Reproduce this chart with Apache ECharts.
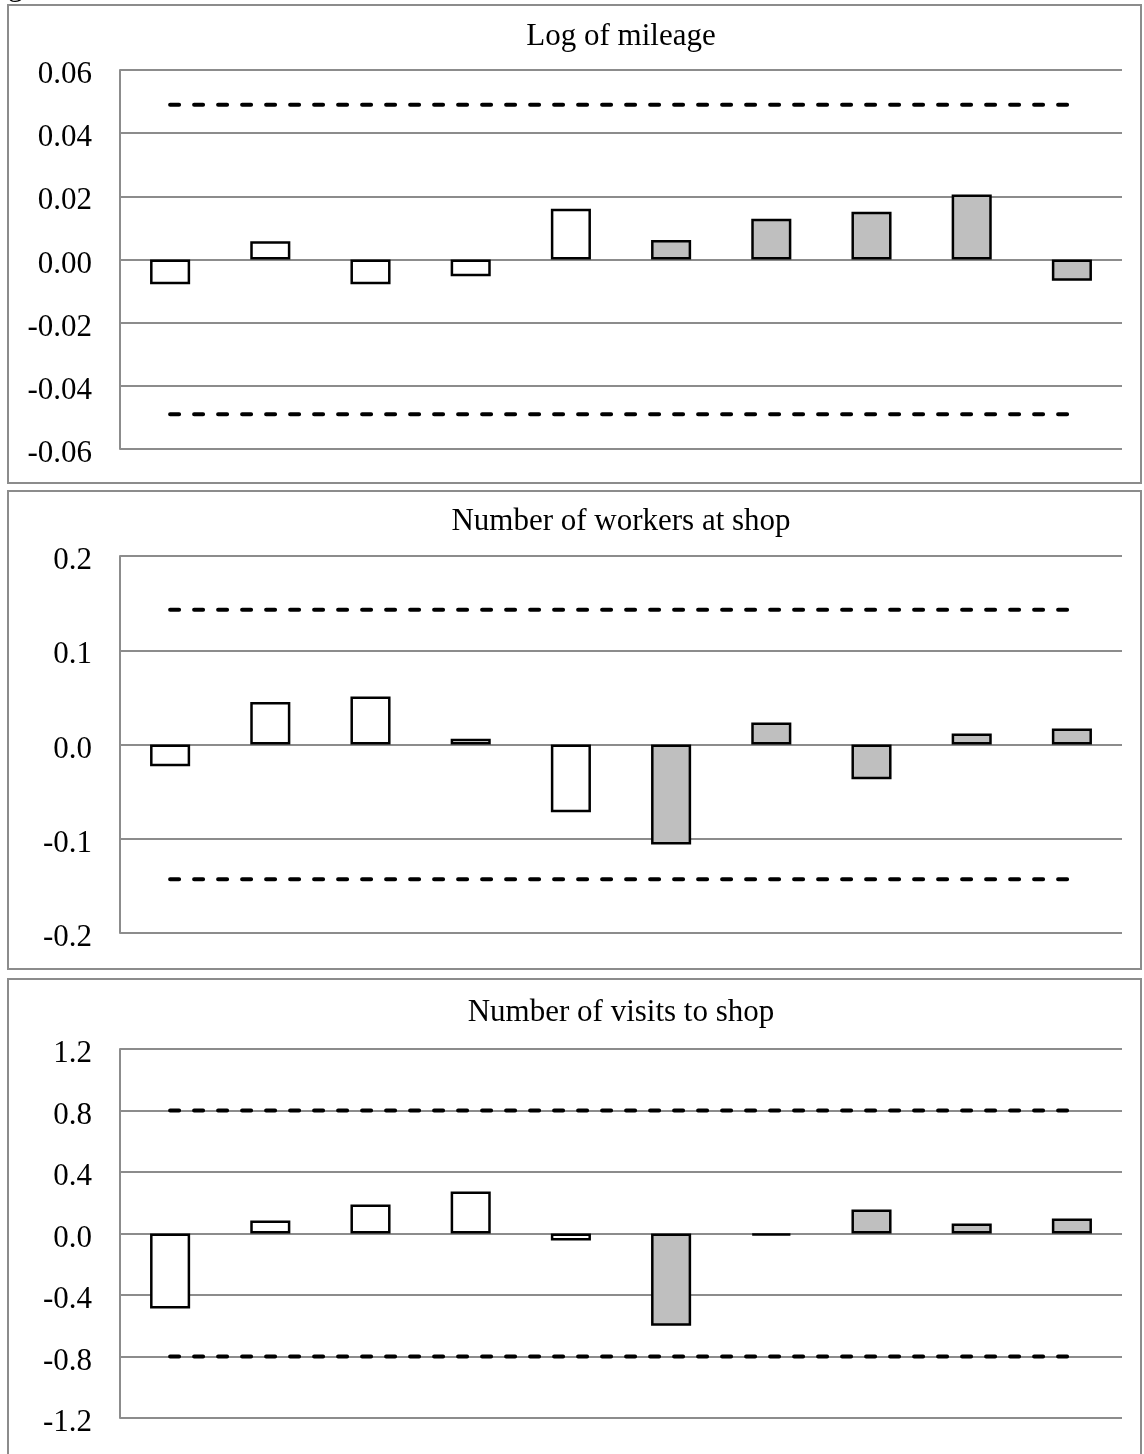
<!DOCTYPE html>
<html>
<head>
<meta charset="utf-8">
<title>Balance diagnostics</title>
<script src="https://cdn.jsdelivr.net/npm/echarts@6/dist/echarts.min.js"></script>
<style>
  html, body { margin: 0; padding: 0; background: #ffffff; }
  #chart { width: 1144px; height: 1454px; }
</style>
</head>
<body>
<div id="chart"></div>
<script>
// Ten covariate groups; the first five are drawn white, the last five grey.
const categories = ['1', '2', '3', '4', '5', '6', '7', '8', '9', '10'];

// Panel titles
const panelTitles = ['Log of mileage', 'Number of workers at shop', 'Number of visits to shop'];

// Bar values per panel
const mileageValues = [-0.0078, 0.0058, -0.0078, -0.0053, 0.0161, 0.0062, 0.0129, 0.0151, 0.0206, -0.0067];
const workersValues = [-0.023, 0.045, 0.051, 0.006, -0.072, -0.106, 0.0234, -0.037, 0.0117, 0.017];
const visitsValues = [-0.487, 0.084, 0.188, 0.273, -0.045, -0.60, -0.012, 0.156, 0.065, 0.097];

// Upper / lower reference bounds per panel (dashed lines)
const mileageBound = [0.049, -0.049];
const workersBound = [0.143, -0.143];
const visitsBound = [0.80, -0.80];

// Y axis ranges: [min, max, interval]
const mileageAxis = [-0.06, 0.06, 0.02];
const workersAxis = [-0.2, 0.2, 0.1];
const visitsAxis = [-1.2, 1.2, 0.4];

const labelDigits = [2, 1, 1];

const SERIF = '"Liberation Serif", "DejaVu Serif", serif';
const GRID_GREY = '#8c8c8c';
const FONT_SIZE = 31;

const panels = [
  { values: mileageValues, bound: mileageBound, axis: mileageAxis, top: 70, height: 379, titleY: 37, boxTop: 5, boxBottom: 483 },
  { values: workersValues, bound: workersBound, axis: workersAxis, top: 556, height: 377, titleY: 522, boxTop: 491, boxBottom: 969 },
  { values: visitsValues, bound: visitsBound, axis: visitsAxis, top: 1049, height: 369, titleY: 1013, boxTop: 979, boxBottom: 1470 }
];

const grids = [], xAxes = [], yAxes = [], series = [], graphics = [];

panels.forEach((p, i) => {
  grids.push({ left: 120, right: 22, top: p.top, height: p.height });
  xAxes.push({
    type: 'category', gridIndex: i, data: categories, boundaryGap: true,
    axisLine: { show: false }, axisTick: { show: false }, axisLabel: { show: false }, splitLine: { show: false }
  });
  yAxes.push({
    type: 'value', gridIndex: i, min: p.axis[0], max: p.axis[1], interval: p.axis[2],
    axisLine: { show: true, lineStyle: { color: GRID_GREY, width: 2 } },
    axisTick: { show: false },
    axisLabel: {
      margin: 28, color: '#000',
      formatter: v => '{t|' + v.toFixed(labelDigits[i]) + '}',
      rich: {
        t: { fontSize: FONT_SIZE, fontFamily: SERIF, color: '#000', lineHeight: FONT_SIZE, padding: [10, 0, 0, 0] }
      }
    },
    splitLine: { show: true, lineStyle: { color: GRID_GREY, width: 2 } }
  });
  series.push({
    type: 'bar', xAxisIndex: i, yAxisIndex: i, data: p.values, barWidth: '40%',
    itemStyle: {
      color: params => (params.dataIndex < 5 ? '#ffffff' : '#bfbfbf'),
      borderColor: '#000', borderWidth: 2.5
    },
    z: 3, silent: true
  });
  p.bound.forEach(b => {
    series.push({
      type: 'line', xAxisIndex: i, yAxisIndex: i,
      data: categories.map(() => b),
      symbol: 'none', silent: true, z: 4,
      lineStyle: { color: '#000', width: 4, type: [9, 15], cap: 'round' }
    });
  });
  // Panel frame
  graphics.push({
    type: 'rect', shape: { x: 8, y: p.boxTop, width: 1133, height: p.boxBottom - p.boxTop },
    style: { fill: 'none', stroke: GRID_GREY, lineWidth: 2 }, silent: true, z: 0
  });
  graphics.push({
    type: 'text', x: 621, y: p.titleY,
    style: { text: panelTitles[i], font: FONT_SIZE + 'px ' + SERIF, fill: '#000', align: 'center', verticalAlign: 'middle' },
    silent: true
  });
});

// Figure caption running off the top edge
graphics.push({
  type: 'text', x: -18, y: -13,
  style: { text: 'Figure', font: FONT_SIZE + 'px ' + SERIF, fill: '#000', align: 'left', verticalAlign: 'middle' },
  silent: true
});

const chart = echarts.init(document.getElementById('chart'), null, { renderer: 'canvas' });
chart.setOption({
  animation: false,
  backgroundColor: '#ffffff',
  grid: grids,
  xAxis: xAxes,
  yAxis: yAxes,
  series: series,
  graphic: graphics
});
</script>
</body>
</html>
